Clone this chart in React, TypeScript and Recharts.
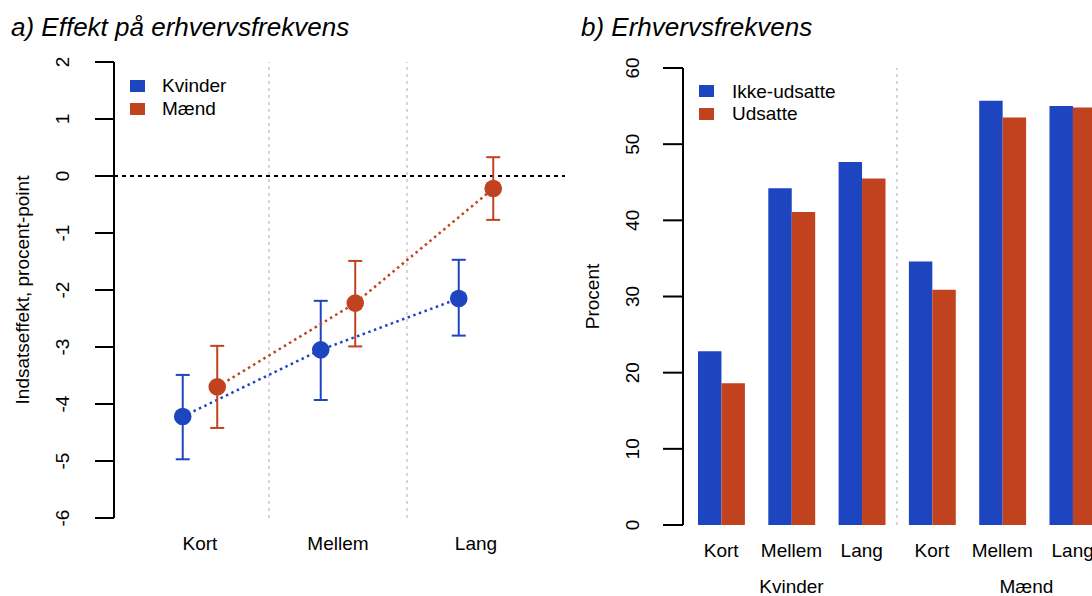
import React from 'react';
import {
  ComposedChart,
  Line,
  ErrorBar,
  XAxis,
  YAxis,
  ReferenceLine,
  Legend,
  BarChart,
  Bar,
} from 'recharts';

// ---------- data: panel a ----------
const durations = ['Kort', 'Mellem', 'Lang'];
const effectSeriesNames = ['Kvinder', 'Mænd'];
const kvinderEffect = [-4.22, -3.05, -2.15];
const kvinderLow = [-4.97, -3.93, -2.8];
const kvinderHigh = [-3.49, -2.19, -1.47];
const maendEffect = [-3.7, -2.23, -0.22];
const maendLow = [-4.42, -2.99, -0.77];
const maendHigh = [-2.98, -1.49, 0.33];
const effectTicks = [-6, -5, -4, -3, -2, -1, 0, 1, 2];

// ---------- data: panel b ----------
const genders = ['Kvinder', 'Mænd'];
const barSeriesNames = ['Ikke-udsatte', 'Udsatte'];
const ikkeUdsatte = [22.8, 44.2, 47.65, 34.6, 55.7, 55.0];
const udsatte = [18.6, 41.1, 45.5, 30.9, 53.5, 54.8];
const procentTicks = [0, 10, 20, 30, 40, 50, 60];

// ---------- styles ----------
const BLUE = '#1E45C0';
const RED = '#C0421F';
const FONT = '"Liberation Sans", Arial, Helvetica, sans-serif';
const FS = 19;
const DODGE = 0.125;

const buildEffect = (vals: number[], lo: number[], hi: number[], shift: number) =>
  durations.map((d, i) => ({
    x: i + 1 + shift,
    y: vals[i],
    err: [vals[i] - lo[i], hi[i] - vals[i]],
  }));

const kvData = buildEffect(kvinderEffect, kvinderLow, kvinderHigh, -DODGE);
const maData = buildEffect(maendEffect, maendLow, maendHigh, DODGE);

const barData = genders.flatMap((g, gi) =>
  durations.map((d, di) => ({
    key: `${g}-${d}`,
    cat: d,
    group: g,
    ikke: ikkeUdsatte[gi * 3 + di],
    uds: udsatte[gi * 3 + di],
  }))
);

const RotTick = (offset: number) => (props: any) => {
  const { x, y, payload } = props;
  return (
    <text
      transform={`translate(${x - offset}, ${y}) rotate(-90)`}
      textAnchor="middle"
      dy="0.36em"
      fontSize={FS}
      fontFamily={FONT}
      fill="#000"
    >
      {payload.value}
    </text>
  );
};

const EffectXTick = (props: any) => {
  const { x, y, payload } = props;
  return (
    <text x={x} y={y + 32} textAnchor="middle" fontSize={FS} fontFamily={FONT} fill="#000">
      {durations[Math.round(payload.value) - 1]}
    </text>
  );
};

const groupLabelDx = [0, 24];
const BarXTick = (props: any) => {
  const { x, y, payload, index } = props;
  const d = barData[index] || barData.find((b) => b.key === payload.value);
  const di = durations.indexOf(d.cat);
  const gi = genders.indexOf(d.group);
  return (
    <g>
      <text x={x} y={y + 31.5} textAnchor="middle" fontSize={FS} fontFamily={FONT} fill="#000">
        {d.cat}
      </text>
      {di === 1 ? (
        <text
          x={x + groupLabelDx[gi]}
          y={y + 68}
          textAnchor="middle"
          fontSize={FS}
          fontFamily={FONT}
          fill="#000"
        >
          {d.group}
        </text>
      ) : null}
    </g>
  );
};

const LegendBox = (pitch: number, gap: number) => (props: any) => {
  const { payload } = props;
  return (
    <div style={{ fontFamily: FONT, fontSize: FS, color: '#000' }}>
      {(payload || []).map((p: any) => (
        <div key={p.value} style={{ display: 'flex', alignItems: 'center', height: pitch }}>
          <span
            style={{ display: 'inline-block', width: 15, height: 12, background: p.color, marginRight: gap }}
          />
          <span style={{ lineHeight: 1 }}>{p.value}</span>
        </div>
      ))}
    </div>
  );
};

const AxisTitle = (text: string, dxFromAxis: number) => (props: any) => {
  const { viewBox } = props;
  const cx = viewBox.x - dxFromAxis;
  const cy = viewBox.y + viewBox.height / 2;
  return (
    <text
      transform={`translate(${cx}, ${cy}) rotate(-90)`}
      textAnchor="middle"
      dy="0.36em"
      fontSize={FS}
      fontFamily={FONT}
      fill="#000"
    >
      {text}
    </text>
  );
};

export default function App() {
  return (
    <div
      style={{
        position: 'absolute',
        left: 0,
        top: 0,
        width: 1092,
        height: 596,
        overflow: 'hidden',
        background: '#fff',
        fontFamily: FONT,
      }}
    >
      {/* Panel a */}
      <div style={{ position: 'absolute', left: 0, top: 0 }}>
        <ComposedChart
          width={600}
          height={596}
          margin={{ top: 62, right: 35, bottom: 48, left: 54 }}
        >
          <XAxis
            type="number"
            dataKey="x"
            domain={[0.377, 3.645]}
            ticks={[1, 2, 3]}
            allowDataOverflow
            axisLine={false}
            tickLine={false}
            tickSize={0}
            tickMargin={0}
            height={30}
            interval={0}
            tick={EffectXTick}
          />
          <YAxis
            type="number"
            domain={[-6, 2]}
            ticks={effectTicks}
            allowDataOverflow
            interval={0}
            width={60}
            tickSize={19}
            tickMargin={0}
            axisLine={{ stroke: '#000', strokeWidth: 2 }}
            tickLine={{ stroke: '#000', strokeWidth: 2 }}
            tick={RotTick(33)}
            label={{ content: AxisTitle('Indsatseffekt, procent-point', 32) }}
          />
          <ReferenceLine x={1.5} stroke="#c9c9c9" strokeWidth={1.5} strokeDasharray="3 4" />
          <ReferenceLine x={2.5} stroke="#c9c9c9" strokeWidth={1.5} strokeDasharray="3 4" />
          <ReferenceLine y={0} stroke="#000" strokeWidth={2} strokeDasharray="4 4" />
          <Legend
            layout="vertical"
            align="center"
            verticalAlign="middle"
            wrapperStyle={{ left: 130, top: 74, width: 'auto', height: 'auto' }}
            content={LegendBox(23, 17)}
          />
          <Line
            data={kvData}
            dataKey="y"
            name={effectSeriesNames[0]}
            stroke={BLUE}
            strokeWidth={2.5}
            strokeDasharray="2.5 3.5"
            dot={{ r: 8.8, fill: BLUE, stroke: 'none', strokeWidth: 0 }}
            activeDot={false}
            isAnimationActive={false}
          >
            <ErrorBar dataKey="err" direction="y" width={7} stroke={BLUE} strokeWidth={2} />
          </Line>
          <Line
            data={maData}
            dataKey="y"
            name={effectSeriesNames[1]}
            stroke={RED}
            strokeWidth={2.5}
            strokeDasharray="2.5 3.5"
            dot={{ r: 8.8, fill: RED, stroke: 'none', strokeWidth: 0 }}
            activeDot={false}
            isAnimationActive={false}
          >
            <ErrorBar dataKey="err" direction="y" width={7} stroke={RED} strokeWidth={2} />
          </Line>
        </ComposedChart>
      </div>

      {/* Panel b */}
      <div style={{ position: 'absolute', left: 560, top: 0 }}>
        <BarChart
          width={560}
          height={596}
          data={barData}
          margin={{ top: 68, right: 12.2, bottom: 30, left: 63 }}
          barGap={0}
          barSize={23.45}
        >
          <XAxis
            dataKey="key"
            padding={{ left: 3, right: 0 }}
            axisLine={false}
            tickLine={false}
            tickSize={0}
            tickMargin={0}
            height={41}
            interval={0}
            tick={BarXTick}
          />
          <YAxis
            type="number"
            domain={[0, 60]}
            ticks={procentTicks}
            allowDataOverflow
            interval={0}
            width={60}
            tickSize={20}
            tickMargin={0}
            axisLine={{ stroke: '#000', strokeWidth: 2 }}
            tickLine={{ stroke: '#000', strokeWidth: 2 }}
            tick={RotTick(31)}
            label={{ content: AxisTitle('Procent', 31) }}
          />
          <ReferenceLine
            x={barData[2].key}
            position="end"
            stroke="#c9c9c9"
            strokeWidth={1.5}
            strokeDasharray="3 4"
          />
          <Legend
            layout="vertical"
            align="center"
            verticalAlign="middle"
            wrapperStyle={{ left: 139, top: 80, width: 'auto', height: 'auto' }}
            content={LegendBox(22.5, 18)}
          />
          <Bar dataKey="ikke" name={barSeriesNames[0]} fill={BLUE} isAnimationActive={false} />
          <Bar dataKey="uds" name={barSeriesNames[1]} fill={RED} isAnimationActive={false} />
        </BarChart>
      </div>

      {/* Panel titles */}
      <svg
        width={1092}
        height={596}
        style={{ position: 'absolute', left: 0, top: 0, pointerEvents: 'none' }}
      >
        <text x={11} y={35.7} fontSize={26} fontStyle="italic" fontFamily={FONT} fill="#000">
          a) Effekt på erhvervsfrekvens
        </text>
        <text x={581} y={35.7} fontSize={26} fontStyle="italic" fontFamily={FONT} fill="#000">
          b) Erhvervsfrekvens
        </text>
      </svg>
    </div>
  );
}
